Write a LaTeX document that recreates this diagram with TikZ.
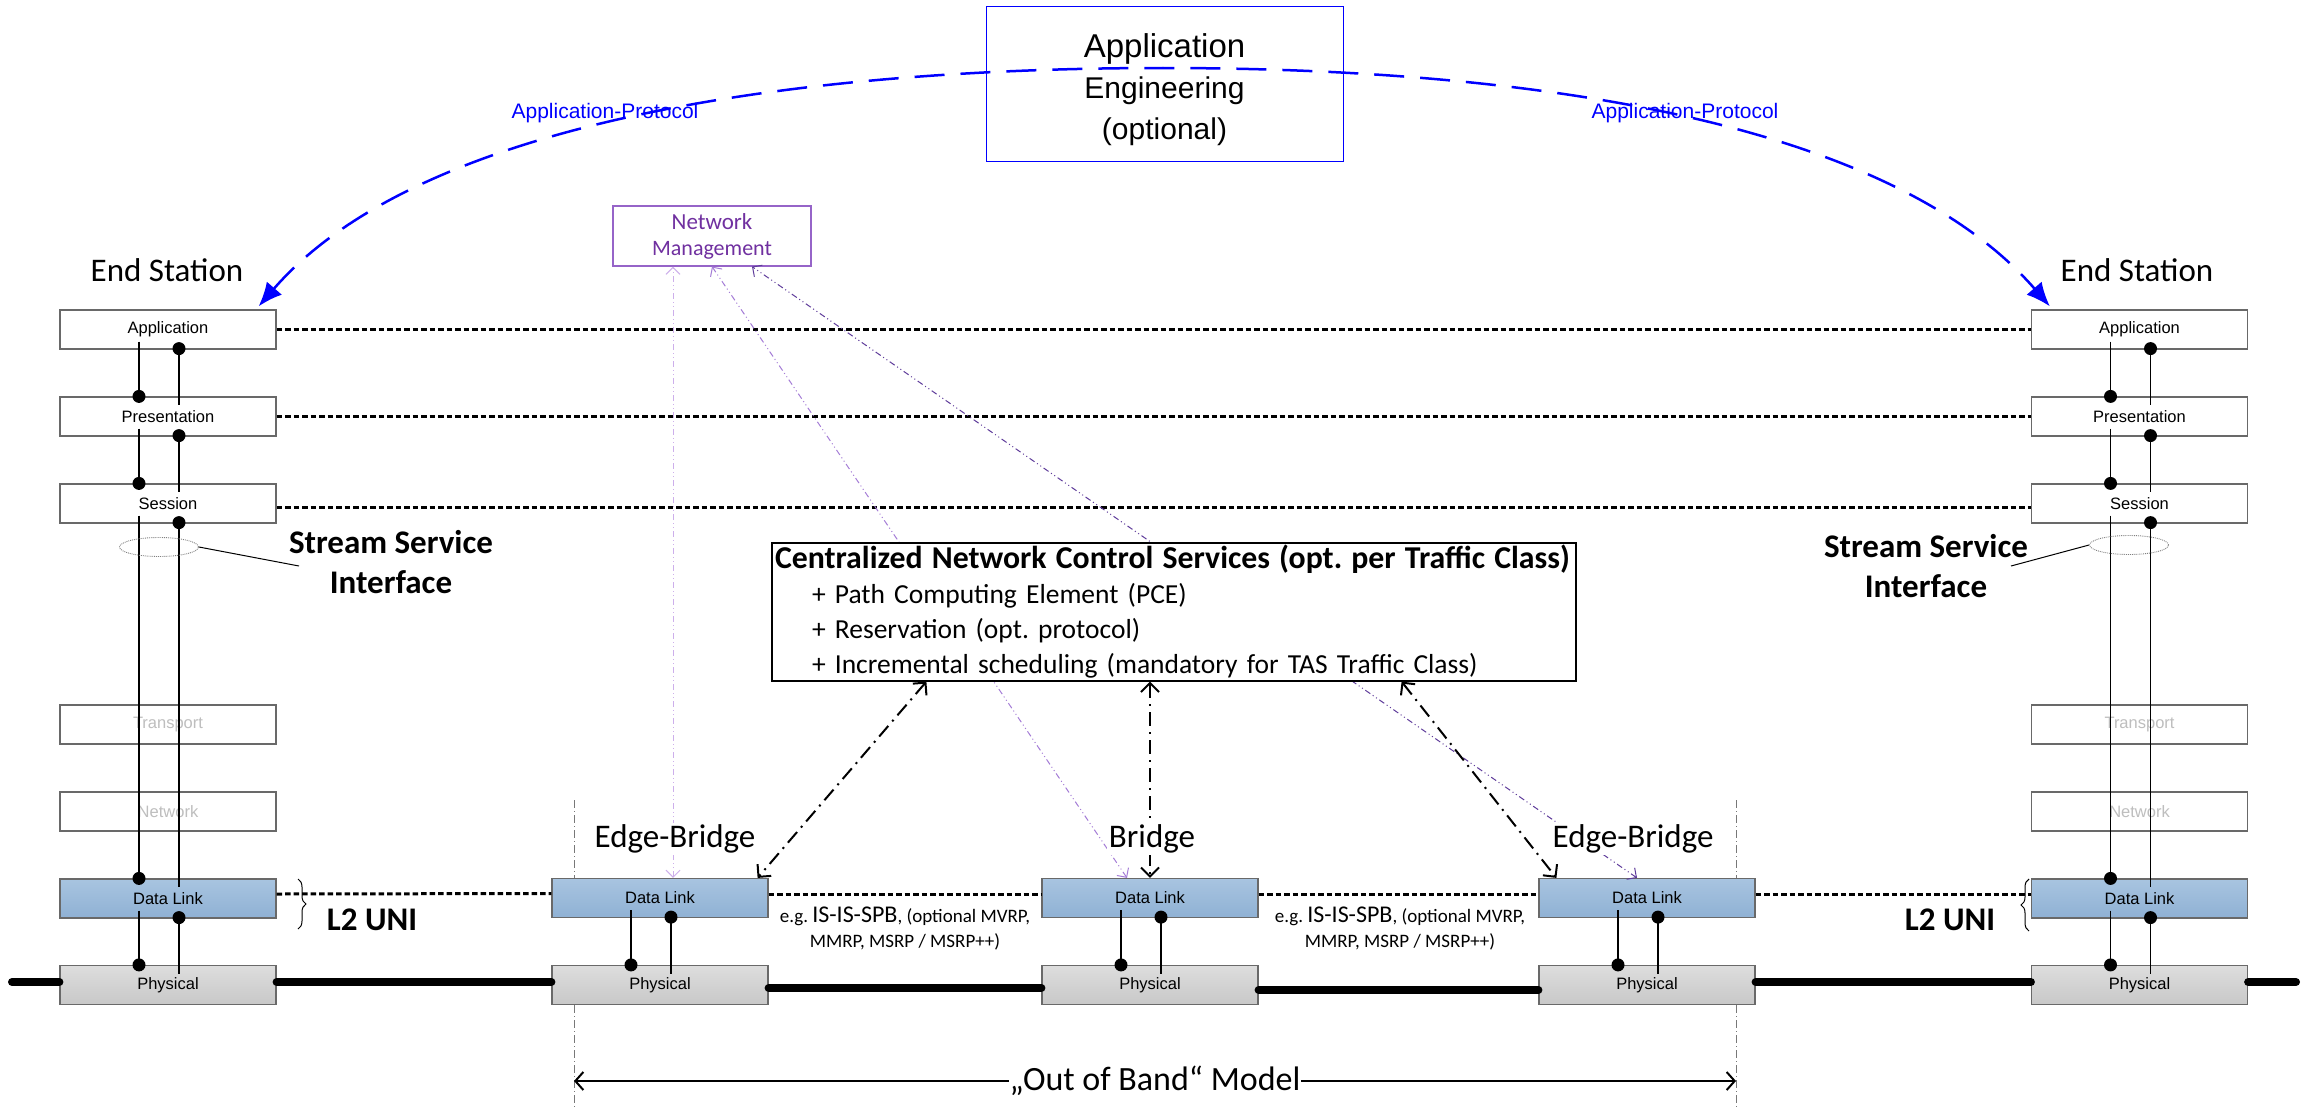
\documentclass[tikz,border=0pt]{standalone}
\usepackage{fontspec}
\setmainfont{Carlito}
\newfontfamily\arialf{Liberation Sans}
\usetikzlibrary{arrows.meta,decorations.pathreplacing,shapes.geometric}
\definecolor{dlA}{RGB}{168,196,224}
\definecolor{dlB}{RGB}{143,177,212}
\definecolor{phA}{RGB}{221,221,221}
\definecolor{phB}{RGB}{200,200,200}
\definecolor{boxgray}{RGB}{105,105,105}
\definecolor{faint}{RGB}{190,190,190}
\definecolor{nmtext}{RGB}{112,48,160}
\definecolor{nmborder}{RGB}{150,100,200}
\definecolor{plA}{RGB}{205,175,235}
\definecolor{plB}{RGB}{165,125,215}
\definecolor{plC}{RGB}{95,60,155}
\definecolor{oobgray}{RGB}{120,120,120}
\newcommand\mylayerlink[2]{%
  \draw[conn] ([xshift=-29pt,yshift=8pt]#1.south) -- ([xshift=-29pt]#2.north);
  \fill ([xshift=-29pt]#2.north) circle[radius=6.5pt];
  \fill ([xshift=11pt,yshift=1pt]#1.south) circle[radius=6.5pt];
  \draw[conn] ([xshift=11pt]#1.south) -- ([xshift=11pt,yshift=-9pt]#2.north);}
\frenchspacing
\begin{document}
\begin{tikzpicture}[x=1pt,y=-1pt,
  layer/.style={draw=boxgray,line width=1.2pt,minimum width=216pt,minimum height=39pt,inner sep=0pt,fill=white,font=\arialf\fontsize{16.5}{18}\selectfont},
  dlbox/.style={layer,top color=dlA,bottom color=dlB},
  phybox/.style={layer,top color=phA,bottom color=phB},
  conn/.style={line width=1.3pt},
  hdots/.style={line width=3pt,dash pattern=on 5.5pt off 3pt},
  phyline/.style={line width=8pt,line cap=round},
  bigtext/.style={font=\fontsize{33}{38}\selectfont,inner sep=2pt},
  bigbold/.style={font=\bfseries\fontsize{33}{40}\selectfont,align=center,inner sep=0pt},
  bridgelabel/.style={bigtext,fill=white},
  blueline/.style={blue,line width=2.5pt,dash pattern=on 30pt off 16pt},
  ctrlline/.style={line width=2pt,dash pattern=on 14pt off 6pt on 2pt off 6pt,{Straight Barb[length=9pt,width=18pt]}-{Straight Barb[length=9pt,width=18pt]}},
  mgmtline/.style={line width=1pt,dash pattern=on 6pt off 3pt on 1pt off 3pt on 1pt off 3pt,{Straight Barb[length=7pt,width=14pt]}-{Straight Barb[length=7pt,width=14pt]}},
  ssiell/.style={ellipse,draw=gray,densely dotted,line width=0.9pt,minimum width=79pt,minimum height=19pt,inner sep=0pt},
  oobline/.style={oobgray,line width=0.8pt,dash pattern=on 8pt off 3pt on 1pt off 3pt},
  ispb/.style={align=center,inner sep=0pt,font=\fontsize{19}{25}\selectfont}
]
\fill[white] (0,0) rectangle (2301,1108);
\useasboundingbox (0,0) rectangle (2301,1108);

% ---------- end stations ----------
\foreach \p/\cx in {l/168,r/2139.5}{
  \node[layer] (\p-app) at (\cx,329.5) {Application};
  \node[layer] (\p-pres) at (\cx,416.5) {Presentation};
  \node[layer] (\p-sess) at (\cx,503.5) {Session};
  \node[layer,text=faint] (\p-trans) at (\cx,724.5) {Transport};
  \node[layer,text=faint] (\p-net) at (\cx,811.5) {Network};
  \node[dlbox] (\p-dl) at (\cx,898.5) {Data Link};
  \node[phybox] (\p-phy) at (\cx,985) {Physical};
  \mylayerlink{\p-app}{\p-pres}
  \mylayerlink{\p-pres}{\p-sess}
  \mylayerlink{\p-sess}{\p-dl}
  \mylayerlink{\p-dl}{\p-phy}
}
% ---------- bridges ----------
\foreach \p/\cx in {eba/660,brg/1150,ebb/1647}{
  \node[dlbox] (\p-dl) at (\cx,898) {Data Link};
  \node[phybox] (\p-phy) at (\cx,985) {Physical};
  \mylayerlink{\p-dl}{\p-phy}
}

% ---------- out of band verticals ----------
\coordinate (oobLtop) at (574,800);
\coordinate (oobLbot) at (574,1108);
\coordinate (oobRtop) at (1736,800);
\coordinate (oobRbot) at (1736,1108);
\draw[oobline] (oobLtop) -- (oobLtop |- eba-dl.north);
\draw[oobline] (oobLtop |- eba-phy.south) -- (oobLbot);
\draw[oobline] (oobRtop) -- (oobRtop |- ebb-dl.north);
\draw[oobline] (oobRtop |- ebb-phy.south) -- (oobRbot);
\coordinate (oobLa) at (574,1081);
\coordinate (oobRa) at (1736,1081);
\draw[line width=2pt,{Straight Barb[length=8pt,width=18pt]}-{Straight Barb[length=8pt,width=18pt]}] (oobLa) -- (oobRa)
  node[midway,fill=white,inner sep=1pt,font=\fontsize{34}{38}\selectfont] (oobtext) {„Out of Band“ Model};

% ---------- dotted protocol lines ----------
\draw[hdots] (l-app.east) -- (r-app.west);
\draw[hdots] (l-pres.east) -- (r-pres.west);
\draw[hdots] ([yshift=-3.5pt]l-sess.east) -- ([yshift=-3.5pt]r-sess.west);
\draw[hdots] ([yshift=4.5pt]l-dl.east) -- ([yshift=4.5pt]eba-dl.west);
\draw[hdots] ([yshift=4pt]eba-dl.east) -- ([yshift=4pt]brg-dl.west);
\draw[hdots] ([yshift=4pt]brg-dl.east) -- ([yshift=4pt]ebb-dl.west);
\draw[hdots] ([yshift=4pt]ebb-dl.east) -- ([yshift=4.5pt]r-dl.west);

% ---------- physical medium ----------
\coordinate (wireL) at (12,982);
\coordinate (wireR) at (2296,982);
\draw[phyline] (wireL) -- ([yshift=3pt]l-phy.west);
\draw[phyline] ([yshift=3pt]l-phy.east) -- ([yshift=3pt]eba-phy.west);
\draw[phyline] ([yshift=-3pt]eba-phy.east) -- ([yshift=-3pt]brg-phy.west);
\draw[phyline] ([yshift=-5pt]brg-phy.east) -- ([yshift=-5pt]ebb-phy.west);
\draw[phyline] ([yshift=3pt]ebb-phy.east) -- ([yshift=3pt]r-phy.west);
\draw[phyline] ([yshift=3pt]r-phy.east) -- (wireR);

% ---------- network management ----------
\node[draw=nmborder,line width=1.2pt,minimum width=198pt,minimum height=60pt,align=center,inner sep=0pt,text=nmtext,font=\fontsize{22}{26}\selectfont] (nm) at (712,236) {{\fontsize{23}{26}\selectfont Network}\\Management};
\draw[mgmtline,draw=plA] ([xshift=13pt]eba-dl.north) -- ([xshift=13pt]eba-dl.north |- nm.south);
\draw[mgmtline,draw=plB] ([xshift=-23pt]brg-dl.north) -- (nm.south);
\draw[mgmtline,draw=plC] ([xshift=-10pt]ebb-dl.north) -- ([xshift=40pt]nm.south);

% ---------- centralized network control ----------
\node[draw,line width=1.2pt,fill=white,minimum width=804pt,minimum height=138pt,text width=798pt,inner xsep=3pt,inner ysep=0pt,align=left,font=\fontsize{27.5}{35}\selectfont] (cnc) at (1174,612)
  {\mbox{\bfseries\fontsize{31.8}{35}\selectfont Centralized Network Control Services (opt. per Traffic Class)}\\
   \hspace*{37pt}+ Path Computing Element (PCE)\\
   \hspace*{37pt}+ Reservation (opt. protocol)\\
   \hspace*{37pt}+ Incremental scheduling (mandatory for TAS Traffic Class)};
\draw[ctrlline] ([xshift=155pt]cnc.south west) -- ([xshift=-11pt]eba-dl.north east);
\draw[ctrlline] (cnc.south -| brg-dl.north) -- (brg-dl.north);
\draw[ctrlline] ([xshift=-175pt]cnc.south east) -- ([xshift=18pt]ebb-dl.north west);

% ---------- bridge labels ----------
\node[bridgelabel] (eba-lab) at (675,839) {Edge-Bridge};
\node[bridgelabel] (brg-lab) at (1152,839) {Bridge};
\node[bridgelabel] (ebb-lab) at (1633,839) {Edge-Bridge};
\node[ispb] (ispb-a) at (905,929) {e.g. {\fontsize{24}{25}\selectfont IS-IS-SPB}, (optional MVRP,\\MMRP, MSRP / MSRP++)};
\node[ispb] (ispb-b) at (1400,929) {e.g. {\fontsize{24}{25}\selectfont IS-IS-SPB}, (optional MVRP,\\MMRP, MSRP / MSRP++)};

% ---------- application protocol ----------
\node[draw=blue,line width=1pt,minimum width=357pt,minimum height=154pt,align=center,inner sep=0pt,font=\arialf\fontsize{30}{41}\selectfont] (appeng) at (1164.5,84)
  {\rule{0pt}{36pt}{\fontsize{33}{41}\selectfont Application}\\Engineering\\(optional)};
\coordinate (arcL) at ([xshift=-18pt,yshift=3pt]l-app.north east);
\coordinate (arcR) at ([xshift=19pt,yshift=3pt]r-app.north west);
\draw[blueline,{Latex[length=24pt,width=20pt]}-{Latex[length=24pt,width=20pt]}] (arcL) .. controls (420,120) and (800,68) .. (1163,68) .. controls (1526,68) and (1888,120) .. (arcR);
\node[text=blue,font=\arialf\fontsize{21}{24}\selectfont] (apL) at (605,113) {Application-Protocol};
\node[text=blue,font=\arialf\fontsize{21}{24}\selectfont] (apR) at (1685,113) {Application-Protocol};

% ---------- station labels ----------
\node[bigtext] (esL) at (167,270) {End Station};
\node[bigtext] (esR) at (2137,270) {End Station};
\node[ssiell] (ellL) at (159,547) {};
\node[ssiell] (ellR) at (2129,545) {};
\node[bigbold] (ssiL) at (391,562) {Stream Service\\Interface};
\node[bigbold] (ssiR) at (1926,566) {Stream Service\\Interface};
\coordinate (leadL) at (299,566);
\coordinate (leadR) at (2011,566);
\draw[line width=1pt] (ellL.east) -- (leadL);
\draw[line width=1pt] (ellR.west) -- (leadR);
\node[bigbold] (uniL) at (372,920) {L2 UNI};
\node[bigbold] (uniR) at (1950,920) {L2 UNI};
\coordinate (brLa) at (298,879);
\coordinate (brLb) at (298,929);
\coordinate (brRa) at (2029,931);
\coordinate (brRb) at (2029,879);
\draw[line width=1pt,decorate,decoration={brace,amplitude=8pt}] (brLa) -- (brLb);
\draw[line width=1pt,decorate,decoration={brace,amplitude=8pt}] (brRa) -- (brRb);
\end{tikzpicture}
\end{document}
